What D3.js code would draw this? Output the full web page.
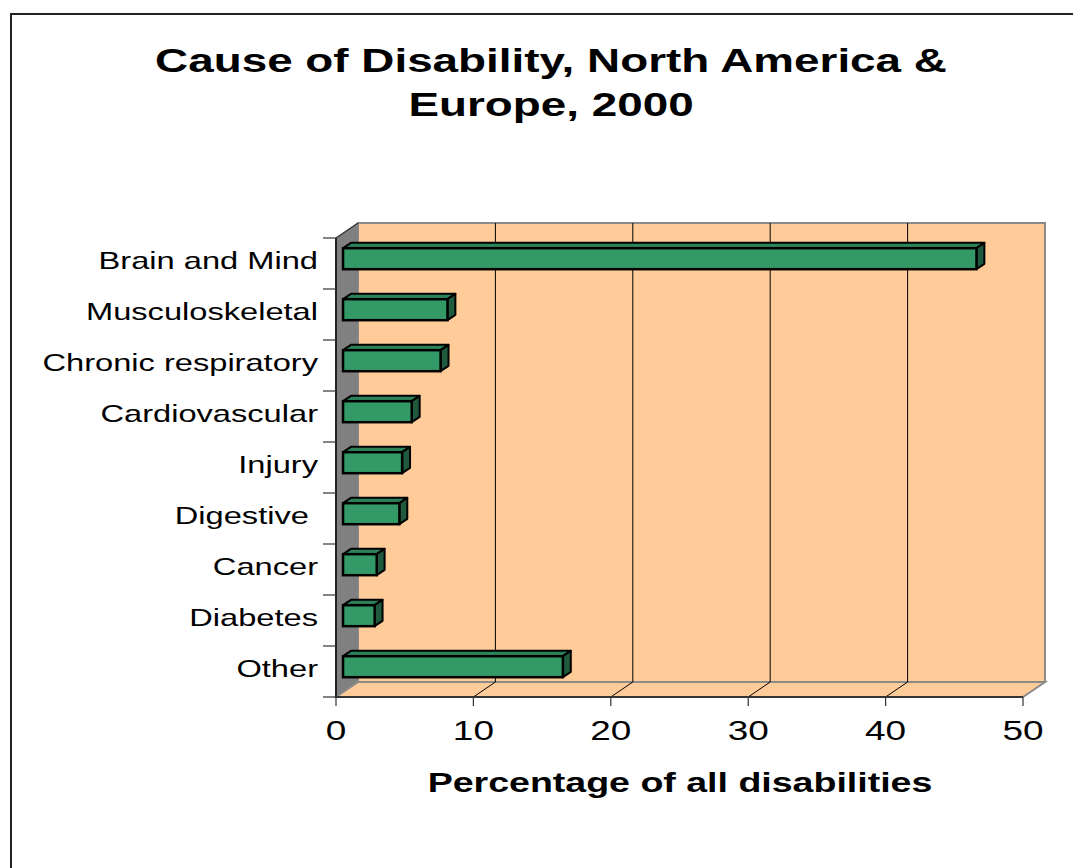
<!DOCTYPE html>
<html>
<head>
<meta charset="utf-8">
<script src="https://cdn.jsdelivr.net/npm/d3@7"></script>
<style>
  html, body { margin: 0; padding: 0; background: #fff; }
  svg { display: block; }
  text { font-family: "Liberation Sans", Arial, sans-serif; fill: #000; white-space: pre; }
</style>
</head>
<body>
<svg id="chart" width="1073" height="868"></svg>
<script>
// ---- data ----
const categories = ["Brain and Mind", "Musculoskeletal", "Chronic respiratory", "Cardiovascular",
                    "Injury", "Digestive ", "Cancer", "Diabetes", "Other"];
const values = [46.1, 7.6, 7.1, 5.0, 4.3, 4.1, 2.45, 2.3, 16.0];
const xTicks = [0, 10, 20, 30, 40, 50];
const titleLines = ["Cause of Disability, North America &", "Europe, 2000"];
const xTitle = "Percentage of all disabilities";

// ---- layout ----
const svg = d3.select("#chart");
const depth = { dx: 22, dy: -15 };
const f1 = 0.32, f2 = 0.68;      // bar front / back depth fractions
const x = d3.scaleLinear().domain([0, 50]).range([336, 1023]);
const y = d3.scaleBand().domain(categories).range([238, 697]).padding(0);
const barH = 21;

const peach = "#FFCC99", wallGray = "#808080", edgeGray = "#8a8a8a";
const green = "#339966", greenTop = "#2b8259", greenSide = "#1f5a3f";

// outer border
svg.append("rect").attr("x", 11).attr("y", 14).attr("width", 1100).attr("height", 900)
  .attr("fill", "none").attr("stroke", "#222").attr("stroke-width", 2);

const x0 = x(0), x1 = x(50), yTop = y.range()[0], yBot = y.range()[1];
const pts = a => a.map(p => p.join(",")).join(" ");

// back wall
svg.append("polygon")
  .attr("points", pts([[x0 + depth.dx, yTop + depth.dy], [x1 + depth.dx, yTop + depth.dy],
                       [x1 + depth.dx, yBot + depth.dy], [x0 + depth.dx, yBot + depth.dy]]))
  .attr("fill", peach).attr("stroke", edgeGray).attr("stroke-width", 2);
// side wall
svg.append("polygon")
  .attr("points", pts([[x0, yTop], [x0 + depth.dx, yTop + depth.dy],
                       [x0 + depth.dx, yBot + depth.dy], [x0, yBot]]))
  .attr("fill", wallGray).attr("stroke", "none");
// floor
svg.append("polygon")
  .attr("points", pts([[x0, yBot], [x0 + depth.dx, yBot + depth.dy],
                       [x1 + depth.dx, yBot + depth.dy], [x1, yBot]]))
  .attr("fill", peach).attr("stroke", edgeGray).attr("stroke-width", 2);
// side wall top edge
svg.append("line").attr("x1", x0).attr("y1", yTop).attr("x2", x0 + depth.dx).attr("y2", yTop + depth.dy)
  .attr("stroke", "#333").attr("stroke-width", 1.5);

// gridlines on wall and floor
const inner = xTicks.filter(t => t > 0 && t < 50);
svg.selectAll("line.gw").data(inner).enter().append("line")
  .attr("x1", d => x(d) + depth.dx).attr("x2", d => x(d) + depth.dx)
  .attr("y1", yTop + depth.dy).attr("y2", yBot + depth.dy)
  .attr("stroke", "#000").attr("stroke-width", 1);
svg.selectAll("line.gf").data(inner).enter().append("line")
  .attr("x1", d => x(d)).attr("y1", yBot)
  .attr("x2", d => x(d) + depth.dx).attr("y2", yBot + depth.dy)
  .attr("stroke", "#000").attr("stroke-width", 1);

// axes lines
svg.append("line").attr("x1", x0).attr("x2", x1).attr("y1", yBot).attr("y2", yBot)
  .attr("stroke", "#333").attr("stroke-width", 2);
svg.append("line").attr("x1", x0).attr("x2", x0).attr("y1", yTop).attr("y2", yBot)
  .attr("stroke", "#222").attr("stroke-width", 2);
// x ticks
svg.selectAll("line.xt").data(xTicks).enter().append("line")
  .attr("x1", d => x(d)).attr("x2", d => x(d)).attr("y1", yBot).attr("y2", yBot + 9)
  .attr("stroke", "#333").attr("stroke-width", 1.2);
// category ticks at band boundaries
const bounds = categories.map(c => y(c)).concat([yBot]);
svg.selectAll("line.yt").data(bounds).enter().append("line")
  .attr("x1", x0 - 13).attr("x2", x0).attr("y1", d => d).attr("y2", d => d)
  .attr("stroke", "#333").attr("stroke-width", 1.2);

// bars
const bars = svg.selectAll("g.bar").data(categories.map((c, i) => ({ c, v: values[i] })))
  .enter().append("g");
bars.each(function (d) {
  const g = d3.select(this);
  const cy = y(d.c) + y.bandwidth() / 2;
  const ax = depth.dx * f1, ay = depth.dy * f1;
  const bx = depth.dx * f2, by = depth.dy * f2;
  const L = x(0) + ax, R = x(d.v) + ax;
  const T = cy + ay - barH / 2, B = cy + ay + barH / 2;
  const ox = bx - ax, oy = by - ay;
  g.append("polygon").attr("points", pts([[L, T], [L + ox, T + oy], [R + ox, T + oy], [R, T]]))
    .attr("fill", greenTop).attr("stroke", "#000").attr("stroke-width", 2).attr("stroke-linejoin", "round");
  g.append("polygon").attr("points", pts([[R, T], [R + ox, T + oy], [R + ox, B + oy], [R, B]]))
    .attr("fill", greenSide).attr("stroke", "#000").attr("stroke-width", 2).attr("stroke-linejoin", "round");
  g.append("rect").attr("x", L).attr("y", T).attr("width", R - L).attr("height", barH)
    .attr("fill", green).attr("stroke", "#000").attr("stroke-width", 2.5);
});

// stretched text helper
function stext(tx, ty, str, size, anchor, weight, stretch) {
  svg.append("text")
    .attr("transform", `translate(${tx},${ty}) scale(${stretch},1)`)
    .attr("text-anchor", anchor)
    .attr("font-size", size)
    .attr("font-weight", weight || "normal")
    .text(str);
}

// category labels
categories.forEach(c => stext(318, y(c) + y.bandwidth() / 2 + 5, c, 24, "end", "normal", 1.36));
// tick labels
xTicks.forEach(t => stext(x(t), 740, String(t), 28, "middle", "normal", 1.32));
// x title
stext(680, 792, xTitle, 27, "middle", "bold", 1.39);
// chart title
stext(551, 72, titleLines[0], 32.5, "middle", "bold", 1.41);
stext(551, 116, titleLines[1], 32.5, "middle", "bold", 1.41);
</script>
</body>
</html>
